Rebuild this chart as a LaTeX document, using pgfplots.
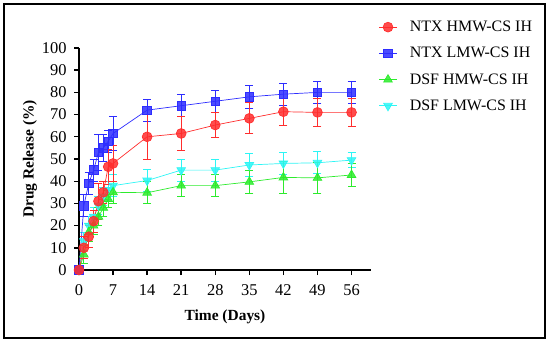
\documentclass[border=0pt]{standalone}
\usepackage{fontspec}
\setmainfont{Liberation Serif}
\usepackage{pgfplots}
\pgfplotsset{compat=1.18}
\definecolor{cred}{RGB}{255,45,45}
\definecolor{cblue}{RGB}{45,45,255}
\definecolor{cgreen}{RGB}{45,235,45}
\definecolor{ccyan}{RGB}{45,245,245}
\pgfplotsset{eb/.style={color=#1, error bars/y dir=both, error bars/y explicit,
    error bars/error bar style={line width=0.85bp, draw=#1, solid},
    error bars/error mark options={rotate=90, mark size=4bp, line width=0.85bp, draw=#1}}}
\begin{document}
\begin{tikzpicture}
\begin{axis}[
  scale only axis, width=292bp, height=222bp,
  xmin=0, xmax=60, ymin=0, ymax=100,
  axis lines=left, axis line style={line width=1.6bp, -},
  xtick={0,7,...,56}, ytick={0,10,...,100},
  tick align=outside, major tick length=5bp,
  clip=false,
  font=\fontsize{15.5}{18}\selectfont,
  ticklabel style={font=\fontsize{16.5}{18}\selectfont},
  xtick style={line width=1.4bp, black}, ytick style={line width=1.4bp, black},
  xticklabel style={yshift=-6bp},
  yticklabel style={xshift=-4bp},
  /pgf/number format/assume math mode=true,
  xlabel={\textbf{Time (Days)}}, ylabel={\textbf{Drug Release (\%)}},
  xlabel style={yshift=-7bp},
  ylabel style={yshift=-2bp},
  reverse legend,
  legend style={at={(axis description cs:1.017,1.14)}, anchor=north west, draw=none, fill=none,
    font=\fontsize{16}{18}\selectfont, row sep=10.2bp},
  legend cell align=left,
  every axis plot/.append style={line width=0.7bp},
]
\addplot[eb=ccyan, mark=triangle*, mark size=5bp, mark options={rotate=180, fill opacity=0.85}]
  table[x=x, y=y, y error=e]{
x y e
0 0 0
1 13 4
2 20 4
3 24 4
4 29 4
5 33 4
6 36 4
7 38 5
14 40.3 5
21 45 5
28 45 5
35 47.3 5
42 48 5
49 48.3 5
56 49.5 3.5
};
\addlegendentry{\hspace{11bp}DSF LMW-CS IH}
\addplot[eb=cgreen, mark=triangle*, mark size=5bp, mark options={fill opacity=0.85}]
  table[x=x, y=y, y error=e]{
x y e
0 0 0
1 7 4
2 17 4
3 20 4
4 24 4
5 28 4
6 32 4
7 35 5
14 34.8 5
21 38 5
28 38 5
35 39.7 5
42 41.7 7
49 41.5 7
56 42.8 5
};
\addlegendentry{\hspace{11bp}DSF HMW-CS IH}
\addplot[eb=cblue, mark=square*, mark size=4.3bp, mark options={fill opacity=0.85}]
  table[x=x, y=y, y error=e]{
x y e
0 0 0
1 29 5
2 39 5
3 45 5
4 53 8
5 55 6
6 58 5
7 61.5 7.5
14 72 5
21 74 5
28 76 5
35 78 5
42 79.2 5
49 80 5
56 80 5
};
\addlegendentry{\hspace{11bp}NTX LMW-CS IH}
\addplot[eb=cred, mark=*, mark size=4.9bp, mark options={fill opacity=0.85}]
  table[x=x, y=y, y error=e]{
x y e
0 0 0
1 10 5
2 15 5
3 22 5
4 31 8
5 35 5
6 46.5 8
7 48 8
14 60 10
21 61.5 7.5
28 65.3 5.5
35 68.3 7
42 71.3 6
49 71 6.5
56 71 6.5
};
\addlegendentry{\hspace{11bp}NTX HMW-CS IH}
\end{axis}
\pgfresetboundingbox
\path[use as bounding box] (-79bp,-73bp) rectangle (471bp,270bp);
\draw[line width=2bp] (-75bp,-68bp) rectangle (466bp,266bp);
\end{tikzpicture}
\end{document}
